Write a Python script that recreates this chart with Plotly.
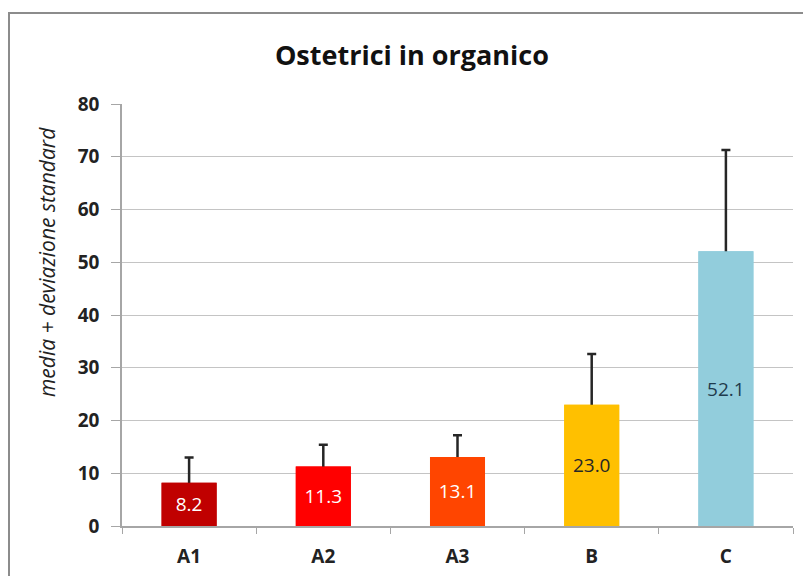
import plotly.graph_objects as go

categories = ["A1", "A2", "A3", "B", "C"]
means = [8.2, 11.3, 13.1, 23.0, 52.1]
std_dev = [4.8, 4.1, 4.1, 9.6, 19.2]
bar_colors = ["#C00000", "#FF0000", "#FF4500", "#FFC000", "#92CDDC"]
label_colors = ["#FFFFFF", "#FFFFFF", "#FFFFFF", "#262626", "#1F3B4D"]
y_ticks = [0, 10, 20, 30, 40, 50, 60, 70, 80]

FONT = "Open Sans"

fig = go.Figure()
# Trace with error bars (lower half hidden by the overlaid bar below)
fig.add_trace(go.Bar(
    x=categories, y=means, width=0.41,
    marker=dict(color=bar_colors, line=dict(width=0)),
    error_y=dict(type="data", array=std_dev, symmetric=True,
                 color="#262626", thickness=2.5, width=4.5),
    hoverinfo="skip",
))
fig.add_trace(go.Bar(
    x=categories, y=means, width=0.41,
    marker=dict(color=bar_colors, line=dict(width=0)),
    text=[f"{v:.1f}" for v in means],
    textposition="inside", insidetextanchor="middle", textangle=0,
    textfont=dict(family=FONT, size=19, color=label_colors),
))

fig.update_layout(
    width=803, height=568,
    margin=dict(l=114, r=18, t=96, b=50, autoexpand=False),
    paper_bgcolor="white", plot_bgcolor="white",
    showlegend=False, barmode="overlay",
    title=dict(text="<b>Ostetrici in organico</b>", x=0.503, xanchor="center",
               y=0.9155, yanchor="middle", xref="container", yref="container",
               font=dict(family=FONT, size=27, color="#111111")),
    xaxis=dict(
        automargin=False,
        showline=True, linecolor="#A6A6A6", linewidth=1.5,
        ticks="outside", tickson="boundaries", ticklen=6, tickcolor="#A6A6A6",
        ticklabelstandoff=12,
        tickfont=dict(family=FONT, size=19, color="#222222", weight="bold"),
        showgrid=False,
    ),
    yaxis=dict(
        automargin=False,
        range=[0, 80], tickvals=y_ticks,
        showline=True, linecolor="#A6A6A6", linewidth=1.5,
        ticks="outside", ticklen=9, tickcolor="#A6A6A6",
        ticklabelstandoff=8,
        tickfont=dict(family=FONT, size=19, color="#222222", weight="bold"),
        showgrid=True, gridcolor="#C4C4C4", gridwidth=1,
        zeroline=False,
    ),
    annotations=[dict(
        text="<i>media + deviazione standard</i>", textangle=-90,
        xref="paper", yref="paper", x=-0.1118, y=0.6256,
        xanchor="center", yanchor="middle", showarrow=False,
        font=dict(family=FONT, size=21, color="#222222"),
    )],
    shapes=[dict(type="rect", xref="paper", yref="paper",
                 x0=-0.1684, x1=1.2, y0=-0.3, y1=1.2156,
                 line=dict(color="#8C8C8C", width=2), fillcolor="rgba(0,0,0,0)",
                 layer="below")],
)

fig.write_html("out.html")
